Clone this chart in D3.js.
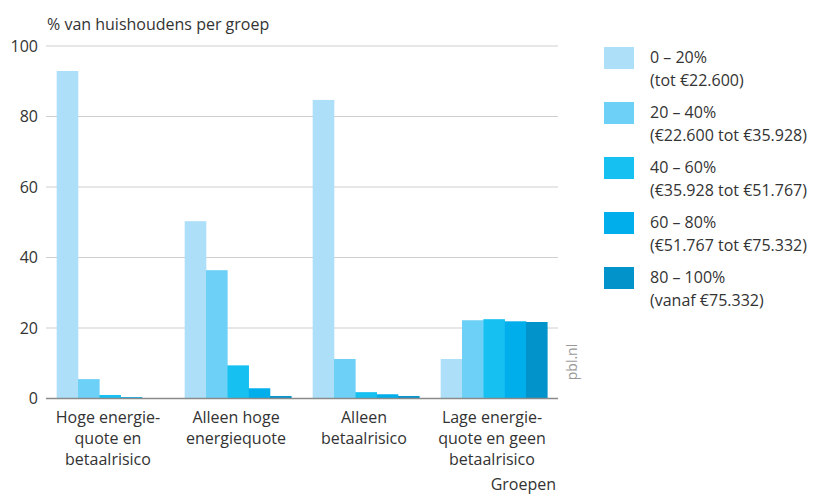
<!DOCTYPE html>
<html><head><meta charset="utf-8">
<script src="https://cdn.jsdelivr.net/npm/d3@7"></script>
<style>body{margin:0;background:#fff;} text{font-family:"Open Sans",sans-serif;fill:#333;}</style>
</head><body><svg id="c" width="815" height="495"></svg>
<script>
const groups = ["Hoge energie-|quote en|betaalrisico","Alleen hoge|energiequote","Alleen|betaalrisico","Lage energie-|quote en geen|betaalrisico"];
const seriesNames = ["0 – 20%","20 – 40%","40 – 60%","60 – 80%","80 – 100%"];
const seriesSub = ["(tot €22.600)","(€22.600 tot €35.928)","(€35.928 tot €51.767)","(€51.767 tot €75.332)","(vanaf €75.332)"];
const colors = ["#addff9","#6dd0f6","#16c0f1","#00aeec","#0393cb"];
const s0 = [92.9, 50.3, 84.7, 11.2];
const s1 = [5.5, 36.4, 11.2, 22.2];
const s2 = [1.0, 9.4, 1.8, 22.5];
const s3 = [0.4, 2.9, 1.2, 21.9];
const s4 = [0.1, 0.7, 0.7, 21.7];
const yTicks = [0,20,40,60,80,100];
const series = [s0,s1,s2,s3,s4];

const FS = 16;
const svg = d3.select("#c");
const L = 46, R = 558, T = 46, B = 398.5;
const y = d3.scaleLinear().domain([0,100]).range([B,T]);
const x0 = d3.scaleBand().domain(groups).range([L,R]).padding(0);
const x1 = d3.scaleBand().domain(d3.range(5)).range([10.7, x0.bandwidth()-10.7]).padding(0);

svg.append("g").selectAll("line").data(yTicks.filter(d=>d>0)).join("line")
  .attr("x1",L).attr("x2",R).attr("y1",d=>y(d)).attr("y2",d=>y(d))
  .attr("stroke","#cfcfcf").attr("stroke-width",1.2);
const yAxis = d3.axisLeft(y).tickValues(yTicks).tickSize(0).tickPadding(0);
const ya = svg.append("g").attr("transform",`translate(${L-8},0)`).call(yAxis);
ya.select(".domain").remove();
ya.selectAll("text").attr("font-size",FS).attr("fill","#333").style("font-family","Open Sans");

const g = svg.append("g");
groups.forEach((grp,gi)=>{
  series.forEach((s,si)=>{
    g.append("rect")
      .attr("x", x0(grp)+x1(si))
      .attr("width", x1.bandwidth()+0.3)
      .attr("y", y(s[gi]))
      .attr("height", B - y(s[gi]))
      .attr("fill", colors[si]);
  });
});

svg.append("line").attr("x1",L).attr("x2",R).attr("y1",B).attr("y2",B).attr("stroke","#8a8a8a").attr("stroke-width",1.5);

const xa = svg.append("g");
groups.forEach(grp=>{
  const cx = x0(grp)+x0.bandwidth()/2;
  grp.split("|").forEach((ln,i)=>{
    xa.append("text").attr("x",cx-2).attr("y",423+i*21).attr("text-anchor","middle").attr("font-size",FS).text(ln);
  });
});
svg.append("text").attr("x",556).attr("y",490).attr("text-anchor","end").attr("font-size",FS).text("Groepen");
svg.append("text").attr("x",47).attr("y",30).attr("font-size",FS).text("% van huishoudens per groep");
svg.append("text").attr("transform","translate(577,362) rotate(-90)").attr("text-anchor","middle").attr("font-size",14).style("fill","#999").text("pbl.nl");

const lg = svg.append("g");
seriesNames.forEach((n,i)=>{
  const yy = 47 + i*55;
  lg.append("rect").attr("x",604).attr("y",yy).attr("width",30).attr("height",22).attr("fill",colors[i]);
  lg.append("text").attr("x",650).attr("y",yy+16).attr("font-size",FS).text(n);
  lg.append("text").attr("x",650).attr("y",yy+39).attr("font-size",FS).text(seriesSub[i]);
});
</script></body></html>
